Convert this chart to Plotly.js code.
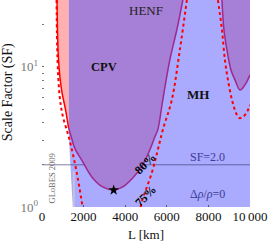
<!DOCTYPE html>
<html>
<head>
<meta charset="utf-8">
<script src="https://cdn.plot.ly/plotly-3.0.1.min.js"></script>
<style>html,body{margin:0;padding:0;background:#fff;}#chart{width:268px;height:244px;}</style>
</head>
<body>
<div id="chart"></div>
<script>
// ---- data ----
// CPV region lower boundary (magenta curve, left lobe)
const cpvL  = [1277, 1422, 1566, 1904, 2434, 2916, 3446, 3880, 4361, 4843, 5181, 5422, 5566, 5807, 6145, 6482, 6771];
const cpvSF = [3.67, 3.11, 2.64, 2.17, 1.61, 1.39, 1.32, 1.39, 1.61, 2.0, 2.55, 3.16, 3.55, 5.81, 11.2, 18.4, 30];
// HENF region boundary (magenta curve, right)
const henfL  = [8651, 8747, 8892, 9084, 9277, 9518, 9759, 10000];
const henfSF = [30, 18.4, 13.2, 9.5, 8.07, 6.85, 7.44, 8.77];
// pink region left boundary (solid red)
const redL  = [723, 795, 940, 1133, 1277];
const redSF = [30, 11.2, 6.85, 4.93, 3.67];
// dotted red curves
const dot1L  = [699, 747, 843, 988, 1325, 1663, 1952];
const dot1SF = [30, 11.2, 6.31, 4.54, 3.01, 1.78, 1.0];
const dot2L  = [4747, 4795, 5277, 5566, 5807, 6241, 6627, 6964];
const dot2SF = [1.0, 1.09, 1.75, 2.55, 3.55, 5.81, 13.2, 30];
const dot3L  = [8458, 8651, 8795, 8940, 9133, 9277, 9470, 9663, 9855, 10000];
const dot3SF = [30, 18.4, 11.2, 8.07, 5.81, 4.93, 4.32, 4.39, 4.77, 5.35];
// MH region (blue) outline
const mhL  = [1277, 10000, 10000, 1480, 1330, 1277];
const mhSF = [30, 30, 1, 1, 2.5, 3.67];
// best fit point
const starL = [3446];
const starSF = [1.32];
// reference line
const sfLineL = [24, 10000];
const sfLineSF = [2.0, 2.0];
// tick labels
const xTicks = [0, 2000, 4000, 6000, 8000, 10000];
const xTickText = ['0', '2000', '4000', '6000', '8000', '10\u2009000'];
const yTicks = [1, 10];
const yTickText = ['10<sup>0</sup>', '10<sup>1</sup>'];

const PURPLE = 'rgb(166,128,214)';
const BLUE = 'rgb(170,170,255)';
const PINK = 'rgb(255,176,176)';
const MAG = 'rgb(160,40,140)';
const FONT = 'Liberation Serif';

const traces = [
  {x: mhL, y: mhSF, type: 'scatter', mode: 'lines', fill: 'toself', fillcolor: BLUE, line: {width: 0}, hoverinfo: 'skip'},
  {x: sfLineL, y: sfLineSF, type: 'scatter', mode: 'lines', line: {color: 'rgba(60,60,110,0.65)', width: 1}},
  {x: cpvL.concat([1277]), y: cpvSF.concat([30]), type: 'scatter', mode: 'lines', fill: 'toself', fillcolor: PURPLE, line: {width: 0}},
  {x: henfL.concat([10000]), y: henfSF.concat([30]), type: 'scatter', mode: 'lines', fill: 'toself', fillcolor: PURPLE, line: {width: 0}},
  {x: redL.concat([1277]), y: redSF.concat([30]), type: 'scatter', mode: 'lines', fill: 'toself', fillcolor: PINK, line: {width: 0}},
  {x: [1530, 1530], y: [1.0, 1.8], type: 'scatter', mode: 'lines', line: {color: 'rgb(200,200,210)', width: 1.5}},
  {x: cpvL, y: cpvSF, type: 'scatter', mode: 'lines', line: {color: MAG, width: 1.5, shape: 'spline'}},
  {x: henfL, y: henfSF, type: 'scatter', mode: 'lines', line: {color: MAG, width: 1.5, shape: 'spline'}},
  {x: redL, y: redSF, type: 'scatter', mode: 'lines', line: {color: 'rgb(255,0,0)', width: 1.5, shape: 'spline'}},
  {x: dot1L, y: dot1SF, type: 'scatter', mode: 'lines', line: {color: 'rgb(255,0,0)', width: 2, dash: 'dot', shape: 'spline'}},
  {x: dot2L, y: dot2SF, type: 'scatter', mode: 'lines', line: {color: 'rgb(255,0,0)', width: 2, dash: 'dot', shape: 'spline'}},
  {x: dot3L, y: dot3SF, type: 'scatter', mode: 'lines', line: {color: 'rgb(255,0,0)', width: 2, dash: 'dot', shape: 'spline'}},
  {x: starL, y: starSF, type: 'scatter', mode: 'markers', marker: {symbol: 'star', size: 8, color: 'black'}}
];

const lg = Math.log10;
const annotations = [
  {x: 4988, y: lg(25.1), text: 'HENF', font: {size: 13, color: '#222'}},
  {x: 2964, y: lg(10), text: '<b>CPV</b>', font: {size: 12.5, color: '#111'}},
  {x: 7494, y: lg(6.3), text: '<b>MH</b>', font: {size: 13, color: '#111'}},
  {x: 7976, y: 0.357, text: 'SF=2.0', font: {size: 12, color: 'rgb(60,60,150)'}},
  {x: 7976, y: 0.093, text: '\u0394<i>\u03c1</i>/<i>\u03c1</i>=0', font: {size: 12, color: 'rgb(60,60,150)'}},
  {x: 4940, y: 0.31, text: '<b>80%</b>', textangle: -45, font: {size: 12, color: '#000'}},
  {x: 4988, y: 0.075, text: '<b>75%</b>', textangle: -45, font: {size: 12, color: '#000'}},
  {x: 458, y: 0.2, text: 'GLoBES 2009', textangle: -90, font: {size: 8.5, color: '#666'}},
  {xref: 'paper', yref: 'paper', x: -0.163, y: 0.555, text: 'Scale Factor (SF)', textangle: -90, font: {size: 14, color: '#111'}},
  {xref: 'paper', yref: 'paper', x: 0.5, y: -0.135, text: 'L [km]', font: {size: 13, color: '#111'}}
].map(a => {
  const o = Object.assign({xref: 'x', yref: 'y', showarrow: false, xanchor: 'center', yanchor: 'middle'}, a);
  o.font = Object.assign({family: FONT}, a.font);
  return o;
});

const layout = {
  width: 268, height: 244,
  margin: {l: 42, r: 18, t: 0, b: 37},
  paper_bgcolor: 'white', plot_bgcolor: 'white',
  showlegend: false,
  font: {family: FONT, size: 13, color: '#111'},
  xaxis: {
    range: [0, 10000], showgrid: false, zeroline: false, showline: false,
    tickmode: 'array', tickvals: xTicks, ticktext: xTickText,
    ticks: 'inside', ticklen: 2, tickcolor: '#555',
    tickfont: {size: 13, color: '#111', family: FONT}
  },
  yaxis: {
    type: 'log', range: [0, Math.log10(30)], showgrid: false, zeroline: false, showline: false,
    tickmode: 'array', tickvals: yTicks, ticktext: yTickText,
    ticks: 'inside', ticklen: 2, tickcolor: '#666',
    tickfont: {size: 13, color: '#777', family: FONT},
    ticklabelstandoff: 3,
    minor: {tickmode: 'array', tickvals: [2, 3, 4, 5, 6, 7, 8, 9, 20], ticks: 'inside', ticklen: 1.5, tickcolor: '#777'}
  },
  annotations: annotations
};

Plotly.newPlot('chart', traces, layout, {staticPlot: true, displayModeBar: false});
</script>
</body>
</html>
